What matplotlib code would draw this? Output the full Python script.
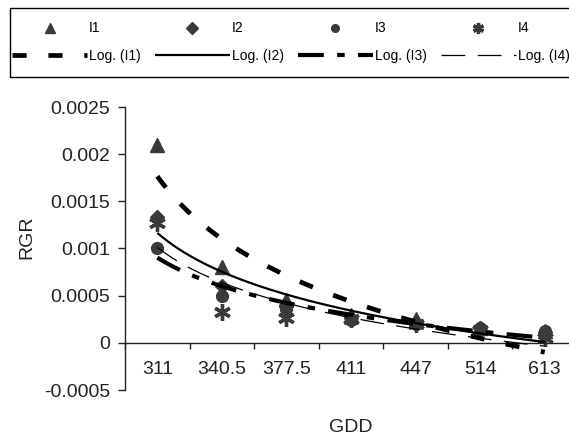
import numpy as np
import matplotlib
matplotlib.use("Agg")
import matplotlib.pyplot as plt
from matplotlib.lines import Line2D
from matplotlib.patches import Rectangle

# ---- data ----
categories = ["311", "340.5", "377.5", "411", "447", "514", "613"]
i1 = [0.00210, 0.00080, 0.00045, 0.00030, 0.00025, 0.00016, 0.00013]
i2 = [0.00133, 0.00060, 0.00040, 0.00026, 0.00022, 0.00016, 0.00012]
i3 = [0.00101, 0.00050, 0.00036, 0.00024, 0.00020, 0.00016, 0.00013]
i4 = [0.00127, 0.00033, 0.00026, 0.00025, 0.00020, 0.00014, 0.00005]
series_names = ["I1", "I2", "I3", "I4"]
trend_names = ["Log. (I1)", "Log. (I2)", "Log. (I3)", "Log. (I4)"]
y_ticks = [-0.0005, 0, 0.0005, 0.001, 0.0015, 0.002, 0.0025]
y_tick_labels = ["-0.0005", "0", "0.0005", "0.001", "0.0015", "0.002", "0.0025"]

plt.rcParams['font.family'] = ['Liberation Sans', 'DejaVu Sans']

W, H = 569, 436
fig = plt.figure(figsize=(W / 100, H / 100), dpi=100)
ax = fig.add_axes([125 / W, 1 - 390 / H, 452 / W, (390 - 107) / H])

x = np.arange(1, len(categories) + 1)
mcol = '#3a3a3a'
tcol = '#222222'
marker_styles = [
    dict(marker='^', ms=10),
    dict(marker='D', ms=7.5),
    dict(marker='o', ms=8.5),
    dict(marker=(6, 2, 0), ms=12, mew=2.4),
]
line_styles = [
    dict(lw=3.4, dashes=(3.0, 4.6)),
    dict(lw=1.6, linestyle='-'),
    dict(lw=3.0, dashes=(6.2, 3.2, 1.8, 3.2)),
    dict(lw=0.9, dashes=(19, 10)),
]
data = [i1, i2, i3, i4]
xs = np.linspace(1, len(categories), 300)
for vals, ms_ in zip(data, marker_styles):
    ax.plot(x, vals, linestyle='none', color=mcol, mec=mcol, zorder=2, **ms_)
for vals, ls_ in zip(data, line_styles):
    a, b = np.polyfit(np.log(x), np.array(vals), 1)
    ax.plot(xs, a * np.log(xs) + b, color='black', zorder=3,
            solid_capstyle='butt', dash_capstyle='butt', **ls_)

ax.set_xlim(0.5, len(categories) + 0.5)
ax.set_ylim(-0.0005, 0.0025)
ax.set_yticks(y_ticks)
ax.set_yticklabels(y_tick_labels)
ax.set_xticks(np.arange(0.5, len(categories) + 1, 1))
ax.set_xticklabels([])
ax.set_xticks(x, minor=True)
ax.set_xticklabels(categories, minor=True)
ax.tick_params(axis='x', which='major', direction='out', length=4, width=1, color=tcol)
ax.tick_params(axis='x', which='minor', length=0, pad=13, labelsize=14, labelcolor=tcol)
ax.tick_params(axis='y', direction='out', length=5, width=1, pad=5.5, labelsize=14,
               color=tcol, labelcolor=tcol)
for s in ['top', 'right']:
    ax.spines[s].set_visible(False)
ax.spines['bottom'].set_position(('data', 0))
for s in ['left', 'bottom']:
    ax.spines[s].set_linewidth(1)
    ax.spines[s].set_color(tcol)
ax.patch.set_alpha(0)

fig.text(27 / W, 1 - 237 / H, "RGR", rotation=90, ha='center', va='center',
         fontsize=14, color=tcol)
fig.text(351 / W, 1 - 427 / H, "GDD", ha='center', va='center', fontsize=14,
         color=tcol)

# legend
leg_marker_sizes = [7.5, 6, 5.5, 8]
handles, labels = [], []
for k in range(4):
    ms_ = dict(marker_styles[k])
    ms_['ms'] = leg_marker_sizes[k]
    handles.append(Line2D([], [], linestyle='none', color=mcol, mec=mcol, **ms_))
    labels.append(series_names[k])
    handles.append(Line2D([], [], color='black', solid_capstyle='butt',
                          dash_capstyle='butt', **line_styles[k]))
    labels.append(trend_names[k])
fig.legend(handles, labels, ncol=4, loc='upper left',
           bbox_to_anchor=(12 / W, 1 - 21.5 / H), frameon=False, borderpad=0,
           fontsize=10, handlelength=5.4, handletextpad=0.15, columnspacing=1.0,
           labelspacing=0.95, borderaxespad=0)
fig.patches.append(Rectangle((10 / W, 1 - 77 / H), 620 / W, 69 / H,
                             transform=fig.transFigure, fill=False,
                             edgecolor='black', lw=1))

fig.savefig("out.png", dpi=100)
